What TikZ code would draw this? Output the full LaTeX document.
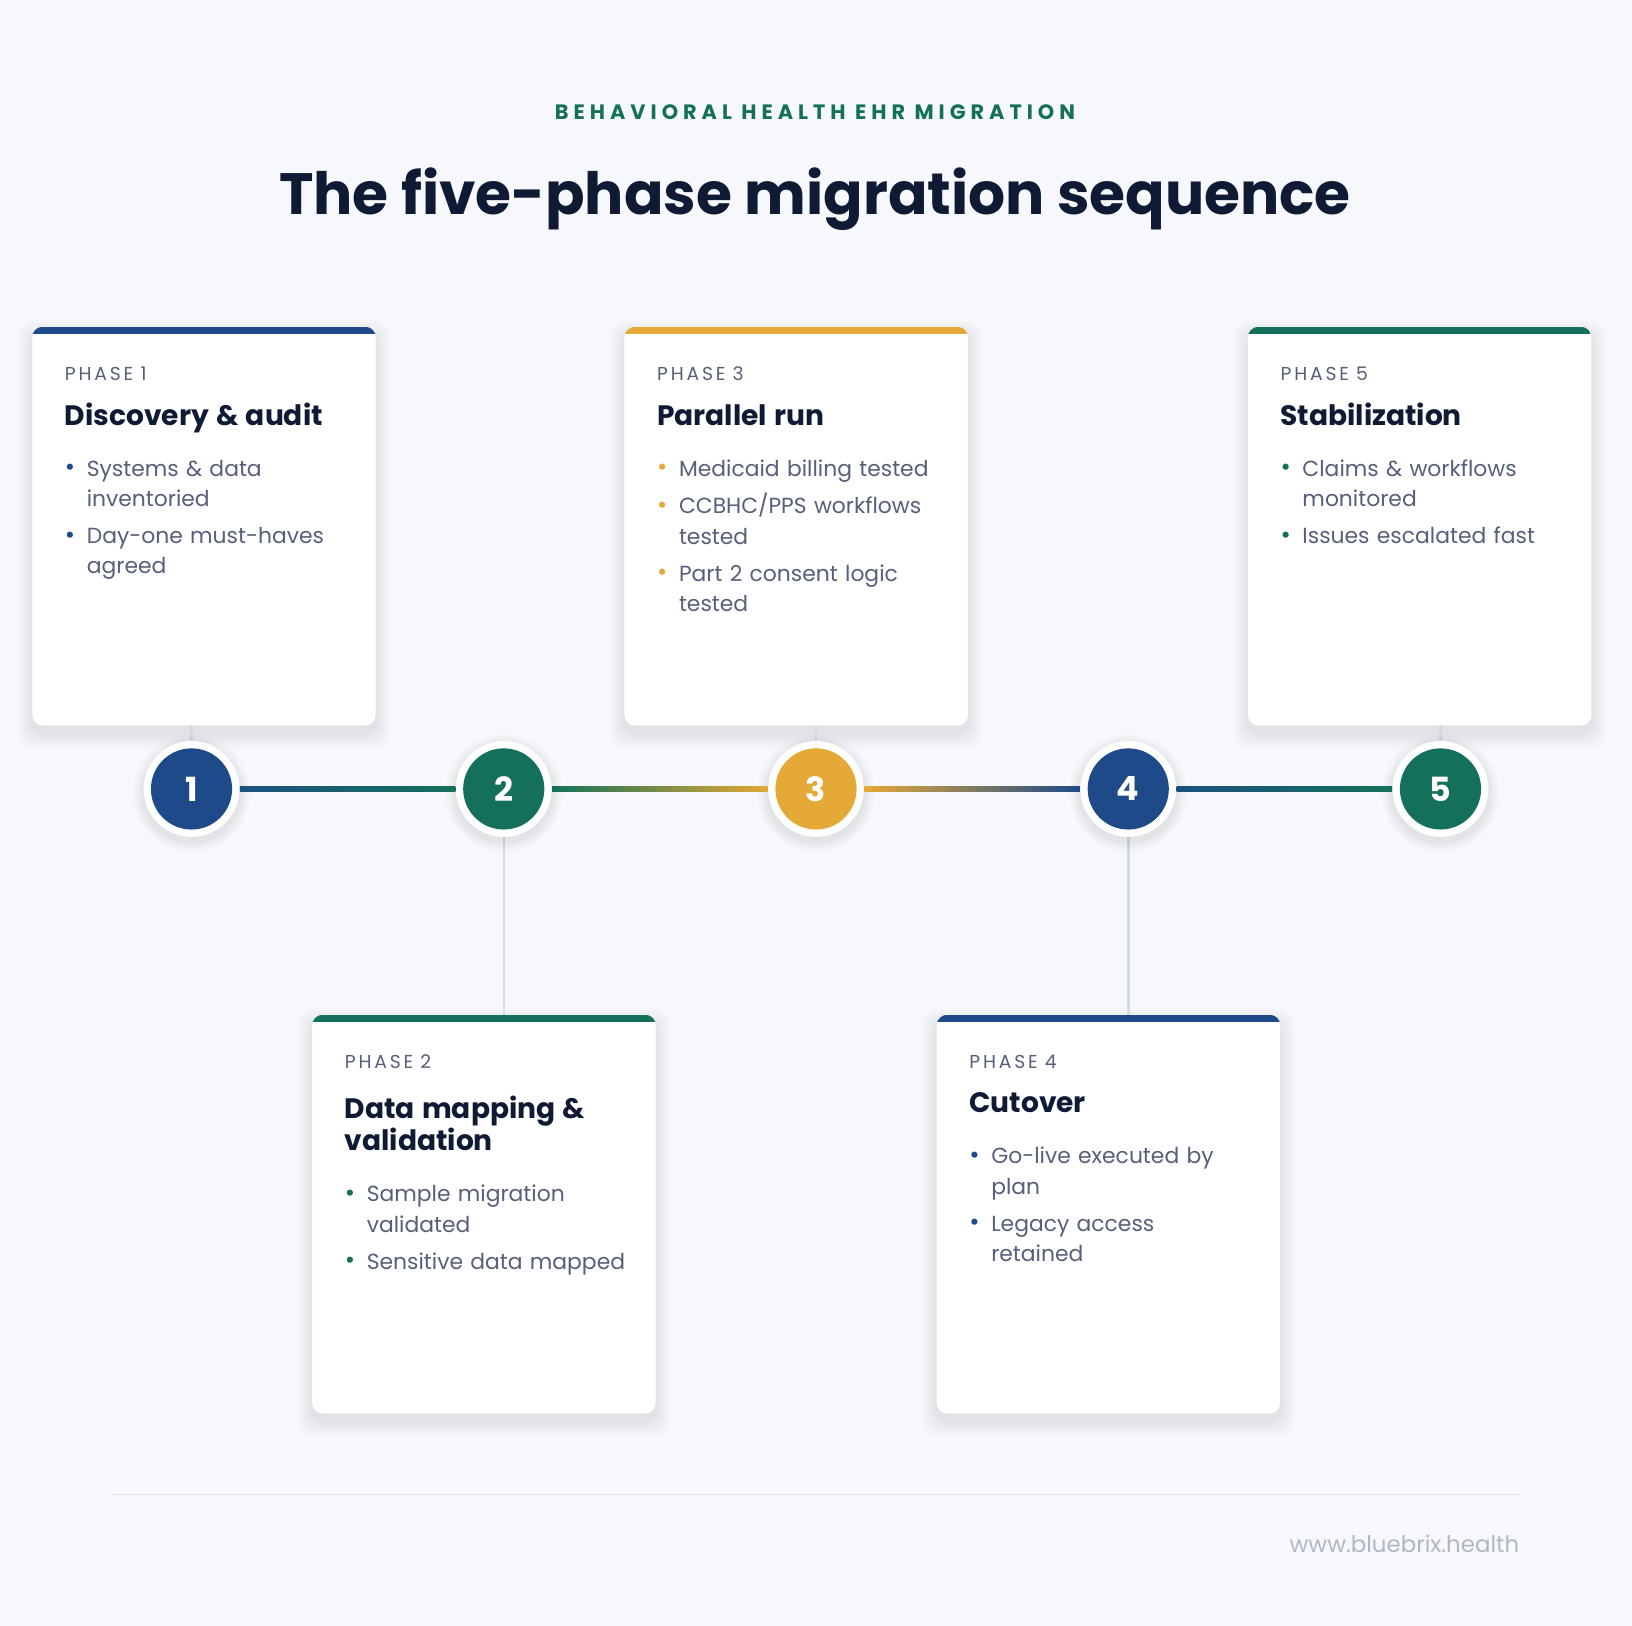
\documentclass[tikz,border=0pt]{standalone}
\usepackage{fontspec}
\setmainfont{Poppins}
\usetikzlibrary{calc}
\definecolor{bgc}{HTML}{F6F8FB}
\definecolor{navy}{HTML}{1E4A8A}
\definecolor{teal}{HTML}{14705A}
\definecolor{gold}{HTML}{E4A937}
\definecolor{ink}{HTML}{0F1B35}
\definecolor{muted}{HTML}{56607A}
\definecolor{stem}{HTML}{D3DAE4}
\newcommand\bodyfont{\fontsize{10.5}{14.5}\selectfont\hyphenpenalty=10000 \exhyphenpenalty=10000 }
\newcommand\bitem[2]{\par\hangindent=10.5pt\hangafter=1\noindent\makebox[10.5pt][l]{\textcolor{#1}{\raisebox{.3pt}{\large\textbullet}}}#2\par\vspace{3.5pt}}
\newcommand\phasehead[2]{\noindent{\fontsize{9}{11}\selectfont\addfontfeature{LetterSpace=15}\color{muted}#1}\par\vspace{7pt}
  {\fontsize{13.5}{17}\selectfont\bfseries\color{ink}#2}\par\vspace{10pt}}
\tikzset{
  card/.style={fill=white, rounded corners=5pt},
  softshadow/.style={fill=black, fill opacity=0.012, rounded corners=8pt},
  cardbody/.style={anchor=north west, inner sep=0pt, text width=140pt, align=left, font=\bodyfont, text=muted},
  ring/.style={circle, fill=white, minimum size=46pt},
  dot/.style={circle, fill=#1, minimum size=39pt, text=white, font=\fontsize{16}{16}\selectfont\bfseries},
  stemline/.style={draw=stem, line width=1.2pt},
}
\newcommand\drawcard[3]{% x, top y, colour
  \foreach \i in {1,...,7}
    \fill[softshadow] (#1-2*\i,#2-2*\i+8) rectangle ++(330+4*\i,383+4*\i);
  \path[card] (#1,#2) rectangle ++(330,383);
  \begin{scope}
    \clip[rounded corners=5pt] (#1,#2) rectangle ++(330,383);
    \fill[#3] (#1,#2) rectangle ++(330,7);
  \end{scope}}
\begin{document}
\begin{tikzpicture}[x=0.5pt, y=-0.5pt]
\fill[bgc] (0,0) rectangle (1568,1562);
\useasboundingbox (0,0) rectangle (1568,1562);
% titles
\node (kicker) at (783,108) {\fontsize{10}{12}\selectfont\bfseries\addfontfeature{LetterSpace=24}\color{teal}BEHAVIORAL HEALTH EHR MIGRATION};
\node (title) at (783,191) {\fontsize{28}{34}\selectfont\bfseries\color{ink}The five-phase migration sequence};
% stems
\coordinate (s1) at (184,697); \coordinate (s3) at (784,697); \coordinate (s5) at (1384,697);
\coordinate (s2) at (484,975); \coordinate (s4) at (1084,975);
% cards
\drawcard{31}{314}{navy}
\drawcard{600}{314}{gold}
\drawcard{1199}{314}{teal}
\drawcard{300}{975}{teal}
\drawcard{900}{975}{navy}
\draw[stemline] (s1) -- (184,758);
\draw[stemline] (s3) -- (784,758);
\draw[stemline] (s5) -- (1384,758);
\draw[stemline] (s2) -- (484,758);
\draw[stemline] (s4) -- (1084,758);
\node[cardbody] (c1) at (62,352) {\phasehead{PHASE 1}{Discovery \& audit}
  \bitem{navy}{Systems \& data inventoried}\bitem{navy}{Day-one must-haves agreed}};
\node[cardbody] (c3) at (631,352) {\phasehead{PHASE 3}{Parallel run}
  \bitem{gold}{Medicaid billing tested}\bitem{gold}{CCBHC/PPS workflows tested}\bitem{gold}{Part 2 consent logic tested}};
\node[cardbody] (c5) at (1230,352) {\phasehead{PHASE 5}{Stabilization}
  \bitem{teal}{Claims \& workflows monitored}\bitem{teal}{Issues escalated fast}};
\node[cardbody] (c2) at (331,1013) {\phasehead{PHASE 2}{Data mapping \&\\validation}
  \bitem{teal}{Sample migration validated}\bitem{teal}{Sensitive data mapped}};
\node[cardbody] (c4) at (931,1013) {\phasehead{PHASE 4}{Cutover}
  \bitem{navy}{Go-live executed by plan}\bitem{navy}{Legacy access\hfil\break retained}};
% timeline
\foreach \k/\x in {1/184,2/484,3/784,4/1084,5/1384} {
  \foreach \i in {1,...,5}
    \fill[black, fill opacity=0.015] (\x,762) circle[radius=46pt/2+\i*1pt];
  \node[ring] (r\k) at (\x,758) {};
}
\shade[left color=navy!80!teal, right color=teal] ($(r1.east)+(0,-2.5)$) rectangle ($(r2.west)+(0,2.5)$);
\shade[left color=teal, right color=gold] ($(r2.east)+(0,-2.5)$) rectangle ($(r3.west)+(0,2.5)$);
\shade[left color=gold, right color=navy] ($(r3.east)+(0,-2.5)$) rectangle ($(r4.west)+(0,2.5)$);
\shade[left color=navy!80!teal, right color=teal] ($(r4.east)+(0,-2.5)$) rectangle ($(r5.west)+(0,2.5)$);
\node[dot=navy] (n1) at (r1) {1};
\node[dot=teal] (n2) at (r2) {2};
\node[dot=gold] (n3) at (r3) {3};
\node[dot=navy] (n4) at (r4) {4};
\node[dot=teal] (n5) at (r5) {5};
% footer
\coordinate (f1) at (108,1436); \coordinate (f2) at (1460,1436);
\draw[stem!70, line width=0.6pt] (f1) -- (f2);
\node[anchor=east, inner sep=0pt] (url) at (1460,1483) {\fontsize{11}{13}\selectfont\color{muted!45}www.bluebrix.health};
\end{tikzpicture}
\end{document}
